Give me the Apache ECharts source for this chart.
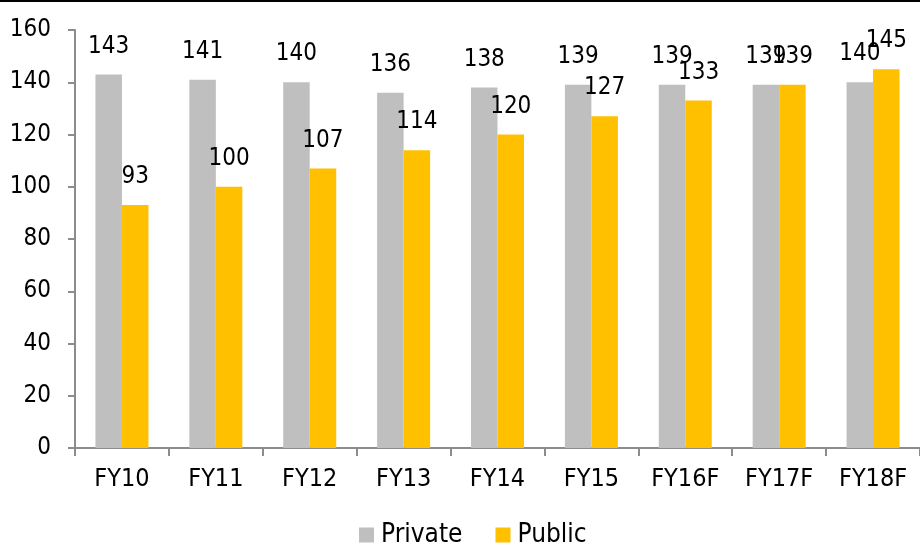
<!DOCTYPE html>
<html>
<head>
<meta charset="utf-8">
<script src="https://cdn.jsdelivr.net/npm/echarts@6/dist/echarts.min.js"></script>
<style>
  html, body { margin: 0; padding: 0; background: #ffffff; }
  #chart { width: 920px; height: 545px; }
</style>
</head>
<body>
<div id="chart"></div>
<script>
// Fiscal years on the category axis
const categories = ['FY10', 'FY11', 'FY12', 'FY13', 'FY14', 'FY15', 'FY16F', 'FY17F', 'FY18F'];
// Series values
const privateValues = [143, 141, 140, 136, 138, 139, 139, 139, 140];
const publicValues = [93, 100, 107, 114, 120, 127, 133, 139, 145];
// Value axis range
const yMin = 0;
const yMax = 160;
const yStep = 20;

const FONT = "'DejaVu Sans Condensed', 'DejaVu Sans', sans-serif";
const AXIS_GREY = '#8c8c8c';

const chart = echarts.init(document.getElementById('chart'), null, { renderer: 'canvas' });

const labelStyle = {
  show: true,
  position: 'top',
  distance: 16,
  color: '#000000',
  fontFamily: FONT,
  fontSize: 24
};

chart.setOption({
  animation: false,
  backgroundColor: '#ffffff',
  textStyle: { fontFamily: FONT },
  graphic: [
    {
      type: 'line',
      shape: { x1: 0, y1: 1, x2: 920, y2: 1 },
      style: { stroke: '#000000', lineWidth: 2 }
    }
  ],
  grid: {
    left: 75,
    top: 30,
    width: 847,
    bottom: 97,
    containLabel: false
  },
  legend: {
    bottom: -8,
    left: 354,
    icon: 'rect',
    itemWidth: 15,
    itemHeight: 15,
    itemGap: 33,
    textStyle: { fontFamily: FONT, fontSize: 26, color: '#000000', padding: [0, 0, 0, 2] },
    data: ['Private', 'Public']
  },
  xAxis: {
    type: 'category',
    data: categories,
    boundaryGap: true,
    axisLine: { show: true, lineStyle: { color: AXIS_GREY, width: 2 } },
    axisTick: { show: true, length: 8, alignWithLabel: false, lineStyle: { color: AXIS_GREY, width: 2 } },
    axisLabel: { margin: 19, color: '#000000', fontFamily: FONT, fontSize: 25, interval: 0 },
    splitLine: { show: false }
  },
  yAxis: {
    type: 'value',
    min: yMin,
    max: yMax,
    interval: yStep,
    axisLine: { show: true, lineStyle: { color: AXIS_GREY, width: 2 } },
    axisTick: { show: true, length: 7, lineStyle: { color: AXIS_GREY, width: 2 } },
    axisLabel: { margin: 24, color: '#000000', fontFamily: FONT, fontSize: 24 },
    splitLine: { show: false }
  },
  series: [
    {
      name: 'Private',
      type: 'bar',
      data: privateValues,
      barWidth: 26.5,
      barGap: '0%',
      itemStyle: { color: '#bfbfbf' },
      label: labelStyle
    },
    {
      name: 'Public',
      type: 'bar',
      data: publicValues,
      barWidth: 26.5,
      barGap: '0%',
      itemStyle: { color: '#ffc000' },
      label: labelStyle
    }
  ]
});
</script>
</body>
</html>
